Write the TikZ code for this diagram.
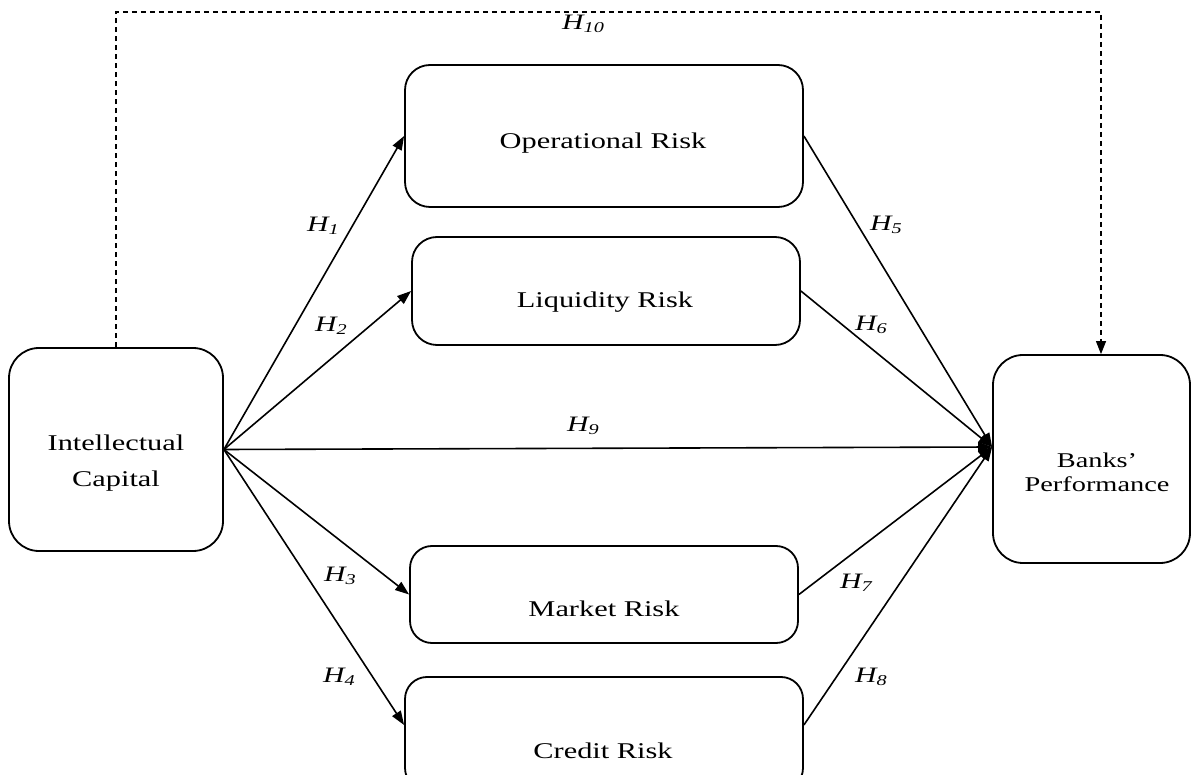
\documentclass[tikz,border=0pt]{standalone}
\usepackage{fontspec}
\setmainfont{Liberation Serif}[FakeStretch=1.35]
\usetikzlibrary{arrows.meta,calc}
\newcommand\hypo[1]{H\raisebox{-3pt}{\fontsize{15}{15}\selectfont #1}}
\begin{document}
\begin{tikzpicture}[x=1pt,y=-1pt,
  box/.style={draw, line width=1.8pt, rectangle, rounded corners=25pt, inner sep=0pt},
  lbl/.style={font=\fontsize{22.5}{27}\selectfont, anchor=base, inner sep=0pt},
  hyp/.style={anchor=base west, inner sep=0pt, font=\fontsize{22}{22}\selectfont\itshape},
  arr/.style={line width=1.6pt, -{Triangle[length=14pt,width=10pt]}},
  dasharr/.style={line width=1.2pt, dash pattern=on 5pt off 4pt, -{Triangle[length=13pt,width=10pt]}}]
\clip (0,0) rectangle (1192,775);
\fill[white] (0,0) rectangle (1192,775);
% boxes
\node[box, minimum width=214pt, minimum height=203pt, rounded corners=30pt] (ic) at (116,449.5) {};
\node[box, minimum width=197pt, minimum height=208pt, rounded corners=30pt] (bp) at (1091.5,459) {};
\node[box, minimum width=398pt, minimum height=142pt] (or) at (604,136) {};
\node[box, minimum width=388pt, minimum height=108pt] (lr) at (606,291) {};
\node[box, minimum width=388pt, minimum height=97pt, rounded corners=22pt] (mr) at (604,594.5) {};
\node[box, minimum width=398pt, minimum height=113pt, rounded corners=22pt] (cr) at (604,733.5) {};
% texts
\node[font=\fontsize{22.5}{36}\selectfont, align=center, inner sep=0pt] (ict) at (116,463) {Intellectual\\Capital};
\node[font=\fontsize{21}{24}\selectfont, align=center, inner sep=0pt] (bpt) at (1097,472) {Banks’\\Performance};
\node[lbl] (ort) at (603,149) {Operational Risk};
\node[lbl] (lrt) at (605,308) {Liquidity Risk};
\node[lbl] (mrt) at (604,616) {Market Risk};
\node[lbl] (crt) at (603,758) {Credit Risk};
% ports
\coordinate (bpin) at ([yshift=12pt]bp.west);
\coordinate (crin) at ([yshift=8.5pt]cr.west);
\coordinate (crout) at ([yshift=8.5pt]cr.east);
\coordinate (bpn) at ([xshift=9.5pt]bp.north);
\coordinate (dtop) at (0,12);
% connectors
\draw[arr] (ic.east) -- (or.west);
\draw[arr] (ic.east) -- (lr.west);
\draw[arr] (ic.east) -- (mr.west);
\draw[arr] (ic.east) -- (crin);
\draw[arr] (ic.east) -- (bpin);
\draw[arr] (or.east) -- (bpin);
\draw[arr] (lr.east) -- (bpin);
\draw[arr] (mr.east) -- (bpin);
\draw[arr] (crout) -- (bpin);
\draw[dasharr] (ic.north) -- (ic.north |- dtop) -| (bpn);
% hypothesis labels
\node[hyp] (h10) at (562,30) {\hypo{10}};
\node[hyp] (h1) at (307,232) {\hypo{1}};
\node[hyp] (h2) at (315,332) {\hypo{2}};
\node[hyp] (h9) at (567,432) {\hypo{9}};
\node[hyp] (h3) at (324,581) {\hypo{3}};
\node[hyp] (h4) at (323,682) {\hypo{4}};
\node[hyp] (h5) at (870,231) {\hypo{5}};
\node[hyp] (h6) at (855,331) {\hypo{6}};
\node[hyp] (h7) at (840,588) {\hypo{7}};
\node[hyp] (h8) at (855,682) {\hypo{8}};
\end{tikzpicture}
\end{document}
